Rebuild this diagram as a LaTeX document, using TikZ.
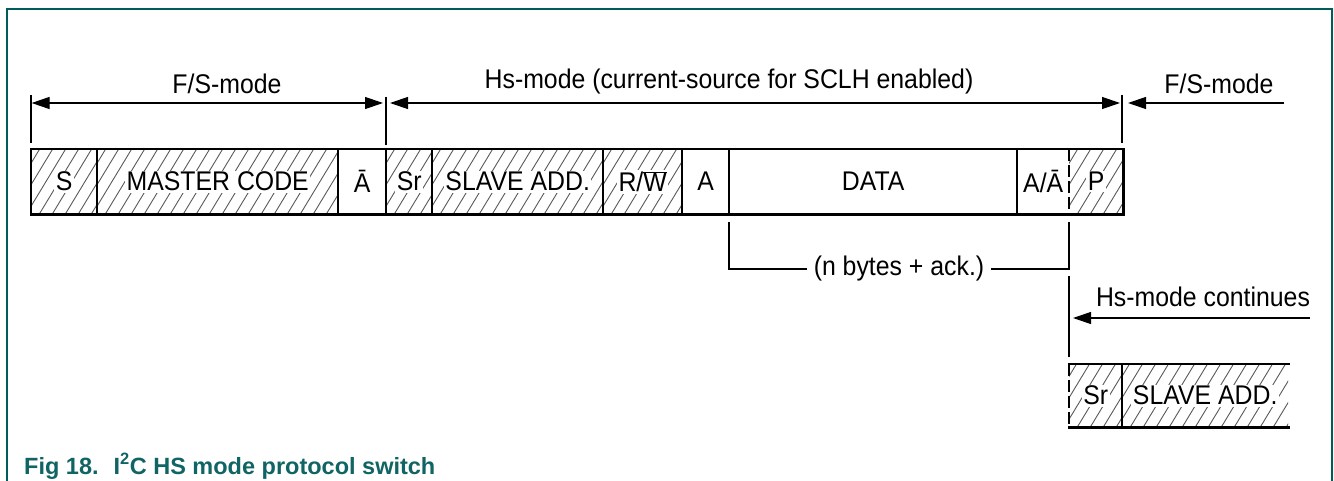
\documentclass[tikz,border=0pt]{standalone}
\usepackage{fontspec}
\setmainfont{Liberation Sans}
\newfontfamily\lblfamily[FakeStretch=0.92]{Liberation Sans}
\usetikzlibrary{arrows.meta}
\definecolor{teal1}{RGB}{0,92,92}
\definecolor{capteal}{RGB}{16,100,100}
\newcommand{\lbl}{\lblfamily\fontsize{27}{32}\selectfont}
\newcommand{\capfont}{\fontsize{23.5}{28}\selectfont\bfseries}
\tikzset{
  field/.style={rectangle, inner sep=0pt, anchor=north west, font=\lbl},
  rowa/.style={field, minimum height=65pt},
  rowb/.style={field, minimum height=63pt},
  hatchline/.style={black!65, line width=0.9pt},
  hatched/.style={path picture={
      \foreach \k in {0,13,...,420}{
        \draw[hatchline] ([xshift=\k pt-60pt, yshift=-5pt]path picture bounding box.south west) -- ++(46pt,76pt);
      }}},
  boxline/.style={line width=2.4pt, line cap=rect},
  divline/.style={line width=2pt},
  dashline/.style={line width=2pt, dash pattern=on 12pt off 4pt},
  dimline/.style={line width=1.2pt},
  tick/.style={line width=1.2pt},
  arr/.style={-{Triangle[length=18pt,width=12pt]}},
  arrboth/.style={{Triangle[length=18pt,width=12pt]}-{Triangle[length=18pt,width=12pt]}},
  txt/.style={font=\lbl, inner sep=1pt},
  htxt/.style={txt, fill=white, inner sep=1.5pt},
  frame/.style={teal1, line width=2pt},
}
\begin{document}
\begin{tikzpicture}[x=1pt, y=-1pt]
\useasboundingbox (0,0) rectangle (1334,481);
% frame
\draw[frame] (7,481) -- (7,9) -- (1332,9) -- (1332,481);

% main row fields
\node[rowa, hatched, minimum width=66pt] (S) at (31,149) {};
\node[rowa, hatched, minimum width=241pt] (MC) at (97,149) {};
\node[rowa, minimum width=48pt] (NA) at (338,149) {};
\node[rowa, hatched, minimum width=46pt] (Sr) at (386,149) {};
\node[rowa, hatched, minimum width=171pt] (SA) at (432,149) {};
\node[rowa, hatched, minimum width=79pt] (RW) at (603,149) {};
\node[rowa, minimum width=47pt] (A) at (682,149) {};
\node[rowa, minimum width=288pt] (DATA) at (729,149) {};
\node[rowa, minimum width=52pt] (AA) at (1017,149) {};
\node[rowa, hatched, minimum width=54pt] (P) at (1069,149) {};

% labels main row
\node[htxt] (lS) at (S.center) {S};
\node[htxt] (lMC) at (MC.center) {MASTER CODE};
\node[txt] (lNA) at (NA.center) {\=A};
\node[htxt] (lSr) at (Sr.center) {Sr};
\node[htxt] (lSA) at (SA.center) {SLAVE ADD.};
\node[htxt] (lRW) at (RW.center) {R/$\overline{\hbox{W}}$};
\node[txt] (lA) at (A.center) {A};
\node[txt] (lDATA) at (DATA.center) {DATA};
\node[txt] (lAA) at (AA.center) {A/\=A};
\node[htxt] (lP) at (P.center) {P};

% outlines main row
\draw[boxline] (S.north west) -- (P.north east) -- (P.south east) -- (S.south west) -- cycle;
\foreach \n in {S,MC,NA,Sr,SA,RW,A,DATA}{
  \draw[divline] (\n.north east) -- (\n.south east);
}
\draw[dashline] (P.north west) -- (P.south west);

% bottom row
\node[rowb, hatched, minimum width=53pt] (Sr2) at (1069,364) {};
\node[rowb, hatched, minimum width=166pt] (SA2) at (1122,364) {};
\node[htxt] (lSr2) at (Sr2.center) {Sr};
\node[htxt] (lSA2) at (SA2.center) {SLAVE ADD.};
\draw[boxline] (Sr2.north west) -- (SA2.north east);
\draw[boxline] (Sr2.south west) -- (SA2.south east);
\draw[divline] (Sr2.north east) -- (Sr2.south east);
\draw[dashline] (Sr2.north west) -- (Sr2.south west);

% dimension ticks
\coordinate (t1a) at (31,95);  \coordinate (t1b) at (31,143);
\coordinate (t2a) at (386,97); \coordinate (t2b) at (386,145);
\coordinate (t3a) at (1122,95); \coordinate (t3b) at (1122,143);
\draw[tick] (t1a) -- (t1b);
\draw[tick] (t2a) -- (t2b);
\draw[tick] (t3a) -- (t3b);

% dimension arrows
\coordinate (fsl) at (31.6,103); \coordinate (fsr) at (383,103);
\coordinate (hsl) at (390,103);  \coordinate (hsr) at (1120,103);
\coordinate (fs2l) at (1128,103); \coordinate (fs2r) at (1284,103);
\draw[dimline, arrboth] (fsl) -- (fsr);
\draw[dimline, arrboth] (hsl) -- (hsr);
\draw[dimline, arr] (fs2r) -- (fs2l);
\node[txt] (lfs1) at (227,84) {F/S-mode};
\node[txt] (lhs) at (729,82) {Hs-mode (current-source for SCLH enabled)};
\node[txt] (lfs2) at (1219,84) {F/S-mode};

% n bytes bracket
\node[txt, inner xsep=7pt] (nb) at (899,269) {(n bytes + ack.)};
\coordinate (bl) at (729,222);
\coordinate (br) at (1069,222);
\draw[dimline] (bl) |- (nb.west);
\draw[dimline] (br) |- (nb.east);

% Hs-mode continues
\coordinate (hcTop) at (1069,276);
\coordinate (hcBot) at (1069,357);
\draw[tick] (hcTop) -- (hcBot);
\coordinate (hcl) at (1073,318);
\coordinate (hcr) at (1310,318);
\draw[dimline, arr] (hcr) -- (hcl);
\node[txt] (lhc) at (1203,297) {Hs-mode continues};

% caption
\node[anchor=base west, inner sep=0pt, text=capteal, font=\capfont] (cap) at (24,474)
  {Fig 18.\hspace{15pt}I\textsuperscript{2}C HS mode protocol switch};
\end{tikzpicture}
\end{document}
